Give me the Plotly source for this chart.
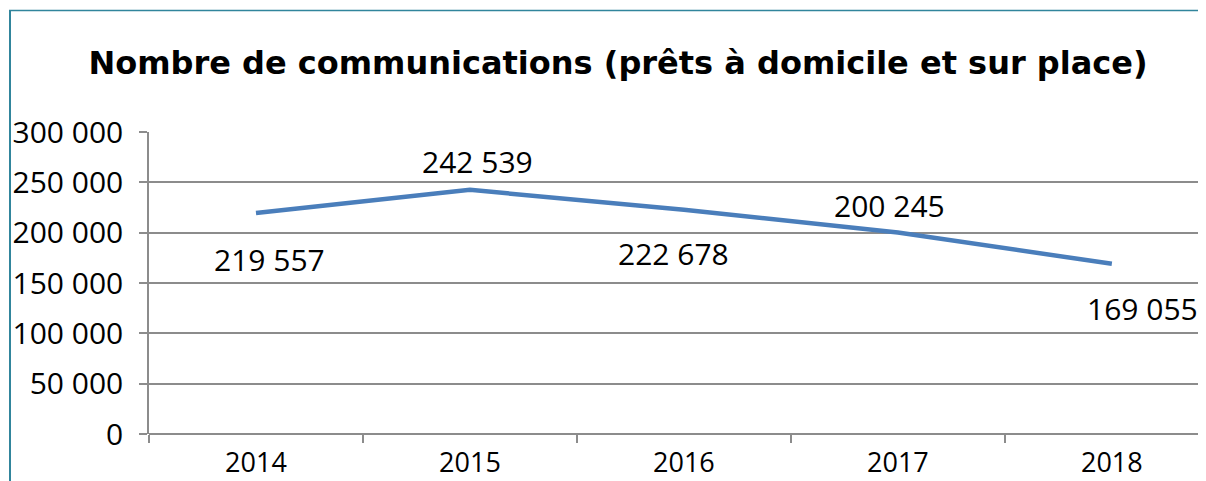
import plotly.graph_objects as go

# ---- data ----
years = ["2014", "2015", "2016", "2017", "2018"]
values = [219557, 242539, 222678, 200245, 169055]
value_labels = ["219 557", "242 539", "222 678", "200 245", "169 055"]
y_tickvals = [0, 50000, 100000, 150000, 200000, 250000, 300000]
y_ticktext = ["0", "50 000", "100 000", "150 000", "200 000", "250 000", "300 000"]
title_text = "Nombre de communications (prêts à domicile et sur place)"

# label offsets (style: Excel's automatic label placement)
label_xshift = [14, 8, -10, -8, 31]
label_yshift = [-47, 28, -44, 27, -45]

LINE_COLOR = "#4a7ebb"
GRID_COLOR = "#8c8c8c"
BORDER_COLOR = "#31859c"
LABEL_FONT = dict(family="Open Sans", size=30, color="#000000")

OFF = 8  # page body margin
W, H = 1206 - OFF, 481 - OFF
L, R, T, B = 149 - OFF, 0, 132 - OFF, 481 - 434

fig = go.Figure()
fig.add_trace(go.Scatter(
    x=years, y=values, mode="lines",
    line=dict(color=LINE_COLOR, width=4.5),
    hoverinfo="skip", showlegend=False,
))

for i, (v, lab, dx, dy) in enumerate(zip(values, value_labels, label_xshift, label_yshift)):
    fig.add_annotation(x=i, y=v, xref="x", yref="y", text=lab, showarrow=False,
                       xshift=dx, yshift=dy, font=LABEL_FONT,
                       xanchor="center", yanchor="middle")

pw, ph = W - L - R, H - T - B
def px(x):
    return (x - OFF - L) / pw
def py(y):
    return (H - B - (y - OFF)) / ph
fig.add_shape(type="line", xref="paper", yref="paper",
              x0=px(10), x1=px(10), y0=py(10), y1=py(490),
              line=dict(color=BORDER_COLOR, width=2))
fig.add_shape(type="line", xref="paper", yref="paper",
              x0=px(9), x1=px(1230), y0=py(10.5), y1=py(10.5),
              line=dict(color=BORDER_COLOR, width=1.5))

fig.update_layout(
    width=W, height=H,
    margin=dict(l=L, r=R, t=T, b=B, pad=0, autoexpand=False),
    paper_bgcolor="white", plot_bgcolor="white",
    title=dict(text="<b>" + title_text + "</b>", x=(618 - OFF) / W, xref="container",
               xanchor="center", y=1 - (63 - OFF) / H, yref="container", yanchor="middle",
               font=dict(family="DejaVu Sans", size=32, color="#000000")),
    xaxis=dict(
        type="category", range=[-0.5, 4.44], automargin=False,
        tickson="boundaries", ticks="outside", ticklen=8, tickwidth=1.5,
        tickcolor=GRID_COLOR, showgrid=False,
        showline=False, zeroline=False,
        tickfont=dict(family="Open Sans", size=27, color="#000000"),
        ticklabelstandoff=10,
    ),
    yaxis=dict(
        range=[0, 300000], tickvals=y_tickvals, ticktext=y_ticktext, automargin=False,
        showgrid=True, gridcolor=GRID_COLOR, gridwidth=1.5,
        ticks="outside", ticklen=8, tickwidth=1.5, tickcolor=GRID_COLOR,
        showline=True, linecolor=GRID_COLOR, linewidth=1.5,
        zeroline=True, zerolinecolor=GRID_COLOR, zerolinewidth=1.5,
        tickfont=dict(family="Open Sans", size=30, color="#000000"),
        ticklabelstandoff=10,
    ),
)

fig.write_html("out.html")
